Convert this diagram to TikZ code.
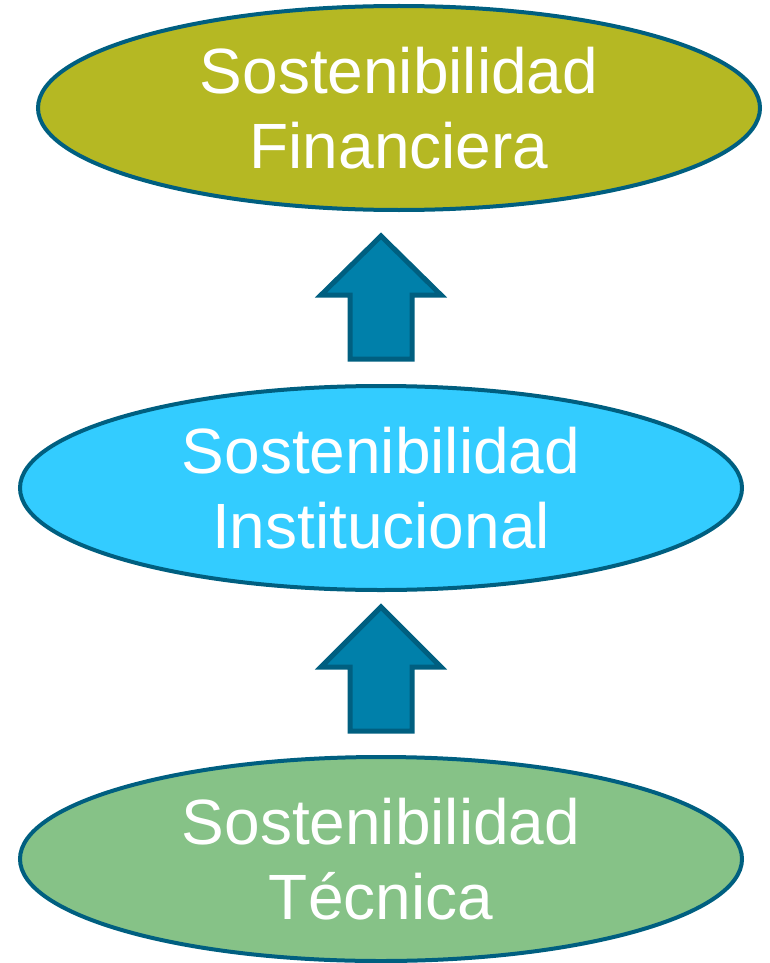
\documentclass[tikz,border=0pt]{standalone}
\usepackage{fontspec}
\setmainfont{Liberation Sans}
\usepackage{tikz}
\usetikzlibrary{shapes.geometric,positioning}
\definecolor{borde}{RGB}{0,95,128}
\definecolor{oliva}{RGB}{181,184,35}
\definecolor{celeste}{RGB}{51,204,255}
\definecolor{verde}{RGB}{134,194,135}
\definecolor{flecha}{RGB}{0,128,170}

\begin{document}
\begin{tikzpicture}
[x = 0.5pt, y = -0.5pt,
nivel/.style = {draw = borde, line width = 2pt, ellipse, inner sep = 0pt, minimum width = 361pt, minimum height = 102pt, text = white, align = center, font = \fontsize{32}{37.5}\selectfont},
flechita/.style = {draw = borde, fill = flecha, line width = 2.5pt, line join = miter}]
\useasboundingbox (0,0) rectangle (770,963);
\node (F) at (399,108)[nivel, fill = oliva] {Sostenibilidad\\Financiera};
\node (I) at (381,488)[nivel, fill = celeste] {Sostenibilidad\\Institucional};
\node (T) at (381,859)[nivel, fill = verde] {Sostenibilidad\\Técnica};
\coordinate (A1) at (381,236);
\coordinate (A2) at (381,607);
\draw [flechita] (A1) -- ++(60,59) -- ++(-29,0) -- ++(0,64) -- ++(-62,0) -- ++(0,-64) -- ++(-29,0) -- cycle;
\draw [flechita] (A2) -- ++(60,60) -- ++(-29,0) -- ++(0,64) -- ++(-62,0) -- ++(0,-64) -- ++(-29,0) -- cycle;
\end{tikzpicture}
\end{document}
